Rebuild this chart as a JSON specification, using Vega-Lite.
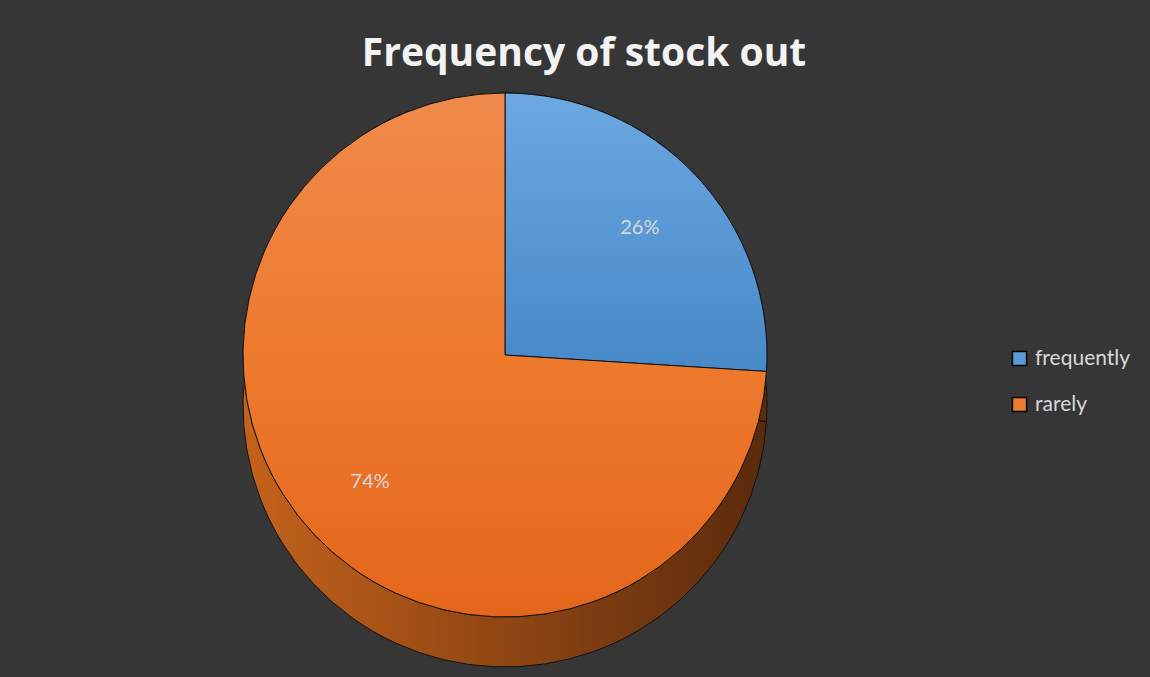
{
  "$schema": "https://vega.github.io/schema/vega-lite/v6.json",
  "width": 1010,
  "height": 520,
  "autosize": {"type": "none"},
  "padding": {"left": 0, "top": 95, "right": 140, "bottom": 62},
  "background": "#363636",
  "title": {
    "text": "Frequency of stock out",
    "fontSize": 39,
    "font": "Open Sans",
    "fontWeight": "bold",
    "color": "#f2f2f2",
    "anchor": "middle",
    "frame": "group",
    "dx": 79,
    "offset": 17
  },
  "config": {"view": {"stroke": null}},
  "data": {
    "values": [
      {"category": "frequently", "share": 0.26},
      {"category": "rarely", "share": 0.74}
    ]
  },
  "encoding": {
    "theta": {"field": "share", "type": "quantitative", "stack": true}
  },
  "layer": [
    {
      "mark": {
        "type": "arc",
        "outerRadius": 262,
        "yOffset": 50,
        "stroke": "#111111",
        "strokeWidth": 1,
        "fill": {
          "gradient": "linear",
          "x1": 0, "y1": 0, "x2": 1, "y2": 0,
          "stops": [
            {"offset": 0, "color": "#c4621b"},
            {"offset": 1, "color": "#5a2a0c"}
          ]
        }
      }
    },
    {
      "mark": {"type": "arc", "outerRadius": 262, "stroke": "#111111", "strokeWidth": 1},
      "encoding": {
        "color": {
          "field": "category",
          "type": "nominal",
          "scale": {"domain": ["frequently", "rarely"], "range": ["#5b9bd5", "#ed7d31"]},
          "legend": {
            "title": null,
            "orient": "none",
            "legendX": 1009,
            "legendY": 253,
            "symbolType": "square",
            "symbolSize": 200,
            "symbolStrokeColor": "#000000",
            "symbolStrokeWidth": 1.5,
            "labelFont": "Lato",
            "labelFontSize": 21,
            "labelColor": "#d9d9d9",
            "labelOffset": 5,
            "rowPadding": 24
          }
        }
      }
    },
    {
      "mark": {"type": "arc", "outerRadius": 262, "stroke": "#111111", "strokeWidth": 1},
      "encoding": {
        "fill": {
          "condition": {
            "test": "datum.category === 'frequently'",
            "value": {
              "gradient": "linear",
              "x1": 0, "y1": 0, "x2": 0, "y2": 1,
              "stops": [
                {"offset": 0, "color": "#6ca8e1"},
                {"offset": 1, "color": "#4788c8"}
              ]
            }
          },
          "value": {
            "gradient": "linear",
            "x1": 0, "y1": 0, "x2": 0, "y2": 1,
            "stops": [
              {"offset": 0, "color": "#ef8a4c"},
              {"offset": 0.5, "color": "#ee7a2e"},
              {"offset": 1, "color": "#e4661b"}
            ]
          }
        }
      }
    },
    {
      "mark": {"type": "text", "radius": 185, "fontSize": 20, "font": "Lato", "fill": "#d9d9d9"},
      "encoding": {
        "text": {"field": "share", "type": "quantitative", "format": ".0%"}
      }
    }
  ]
}
